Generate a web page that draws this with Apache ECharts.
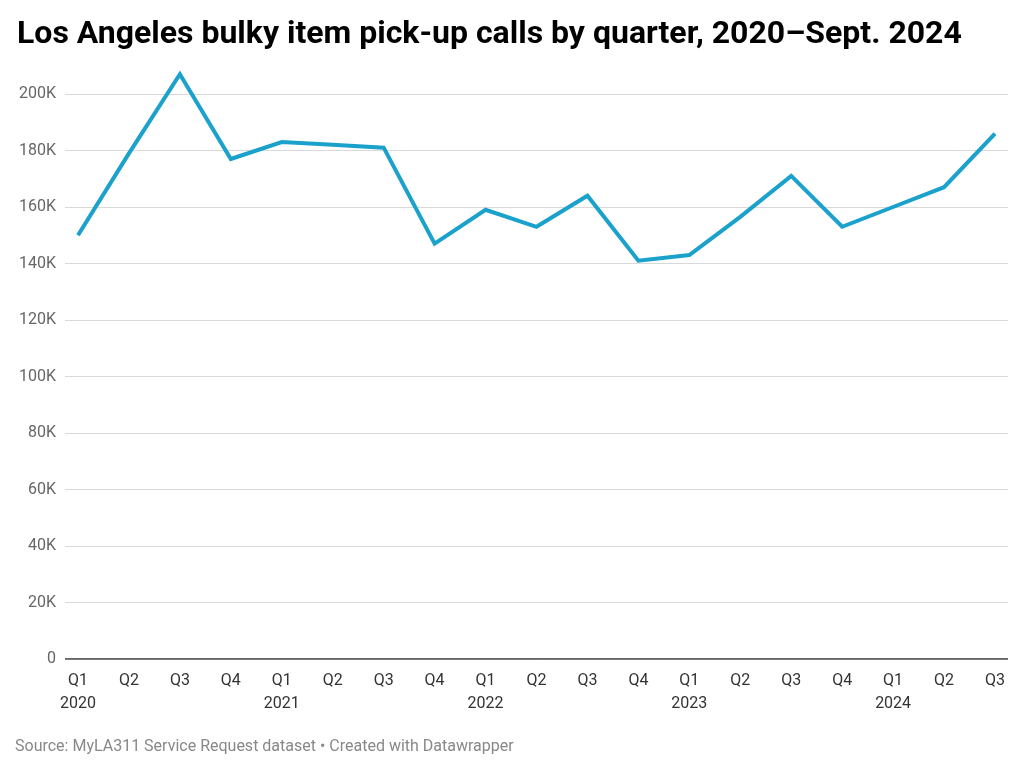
<!DOCTYPE html>
<html>
<head>
<meta charset="utf-8">
<script src="https://cdn.jsdelivr.net/npm/echarts@6/dist/echarts.min.js"></script>
<style>
html,body{margin:0;padding:0;background:#fff;}
#c{width:1024px;height:774px;}
</style>
</head>
<body>
<div id="c"></div>
<script>
const quarters = ["Q1","Q2","Q3","Q4","Q1","Q2","Q3","Q4","Q1","Q2","Q3","Q4","Q1","Q2","Q3","Q4","Q1","Q2","Q3"];
const years = ["2020","","","","2021","","","","2022","","","","2023","","","","2024","",""];
const calls = [150000,179000,207000,177000,183000,182000,181000,147000,159000,153000,164000,141000,143000,156500,171000,153000,160000,167000,186000];
const yTicks = [0,20000,40000,60000,80000,100000,120000,140000,160000,180000,200000];

const categories = quarters.map((q,i)=> years[i] ? q + "\n" + years[i] : q);
const font = "Roboto, 'DejaVu Sans', sans-serif";
const chart = echarts.init(document.getElementById('c'), null, {renderer:'canvas'});
chart.setOption({
  backgroundColor:'#fff',
  animation:false,
  title:{
    text:"Los Angeles bulky item pick-up calls by quarter, 2020–Sept. 2024",
    left:12, top:14,
    textStyle:{fontFamily:font, fontWeight:'bold', fontSize:32, color:'#000'}
  },
  graphic:[{
    type:'text', left:15, top:739,
    style:{text:"Source: MyLA311 Service Request dataset • Created with Datawrapper", font:"16px " + font, fill:'#888'}
  }],
  grid:[
    {left:65, right:16, top:94, bottom:115},
    {left:78, right:29, top:94, bottom:115}
  ],
  xAxis:[
    {gridIndex:0, type:'value', min:0, max:1, show:false},
    {gridIndex:1, type:'category', data:categories, boundaryGap:false,
     axisLine:{show:false}, axisTick:{show:false},
     axisLabel:{fontFamily:font, fontSize:16, color:'#333', margin:10, lineHeight:23, interval:0}}
  ],
  yAxis:[
    {gridIndex:0, type:'value', min:0, max:200000, interval:20000,
     axisLine:{show:false}, axisTick:{show:false},
     splitLine:{lineStyle:{color:'#d9d9d9', width:1}},
     axisLabel:{fontFamily:font, fontSize:16, color:'#666', margin:9,
       formatter:v=> yTicks.indexOf(v) < 0 ? '' : (v===0 ? '0' : (v/1000)+'K')}},
    {gridIndex:1, type:'value', min:0, max:200000, interval:20000, show:false}
  ],
  series:[
    {type:'line', xAxisIndex:0, yAxisIndex:0, data:[[0,0],[1,0]], symbol:'none',
     lineStyle:{color:'#333', width:1.5}, silent:true, z:1},
    {type:'line', xAxisIndex:1, yAxisIndex:1, data:calls, symbol:'none', clip:false,
     lineStyle:{color:'#1aa1cc', width:4, join:'miter'}, z:5}
  ]
});
</script>
</body>
</html>
